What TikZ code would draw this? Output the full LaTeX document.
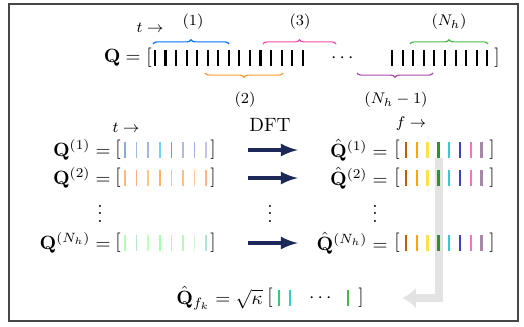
\documentclass[tikz,border=0pt]{standalone}
\usepackage{amsmath}
\usetikzlibrary{arrows.meta,decorations.pathreplacing}
\definecolor{dftblue}{RGB}{28,40,88}
\begin{document}
\begin{tikzpicture}[x=0.52pt, y=-0.52pt, >=latex,
    lbl/.style={font=\footnotesize, inner sep=1pt},
    eq/.style={anchor=east, inner sep=1pt},
    brk/.style={inner sep=0pt},
    bar/.style={line width=1.1pt},
    wbar/.style={line width=0.9pt},
    fbar/.style={line width=1.2pt},
    brc/.style={decorate, decoration={brace, amplitude=2.2pt}, line width=0.6pt},
    dftarr/.style={->, line width=2pt, draw=dftblue, shorten <=16.8pt, shorten >=50pt},
    pick/.style={-{Latex[length=7pt,width=11pt]}, line width=4.5pt, draw=gray!22, shorten >=20pt}]
  \useasboundingbox (0,0) rectangle (524,326);
  \draw[line width=1.2pt, gray!55!black] (9,4) rectangle (518,321);
  \coordinate (pk) at (439,158);
  \node[eq] (qt) at (143,58) {$\mathbf{Q} =$};
  \node[brk] (lbt) at (149,58) {$[$};
  \foreach \i in {0,...,14} \draw[bar] (155+10.55*\i,50) -- ++(0,16);
  \node[brk] (dt) at (344,58) {$\cdots$};
  \foreach \i in {0,...,9} \draw[bar] (392+10.6*\i,50) -- ++(0,16);
  \node[brk] (rbt) at (497,58) {$]$};
  \node[lbl] (tt) at (150,28) {$t\rightarrow$};
  \draw[brc, blue!55!cyan] (153,44) -- (229,44);
  \draw[brc, magenta!70] (263,44) -- (336,44);
  \draw[brc, green!60!black!70] (410,44) -- (488,44);
  \draw[brc, orange!80] (283,73) -- (205,73);
  \draw[brc, violet!70] (433,73) -- (357,73);
  \node[lbl] (w1) at (193,22) {$(1)$};
  \node[lbl] (w3) at (300,22) {$(3)$};
  \node[lbl] (wn) at (449,22) {$(N_h)$};
  \node[lbl] (w2) at (245,100) {$(2)$};
  \node[lbl] (wn1) at (396,100) {$(N_h-1)$};
  \node (dft) at (270,125) {DFT};
  \node[eq] (qk) at (265,298) {$\hat{\mathbf{Q}}_{f_k} = \sqrt{\kappa}$};
  \node[brk] (lbk) at (270,298) {$[$};
  \draw[fbar, green!50!teal!80] (279,290) -- ++(0,16);
  \draw[fbar, teal!50!cyan!80] (290,290) -- ++(0,16);
  \node[brk] (dk) at (322,298) {$\cdots$};
  \draw[fbar, green!40!gray] (348,290) -- ++(0,16);
  \node[brk] (rbk) at (361,298) {$]$};
  \draw[pick] (pk) |- (rbk);
  \node[eq] (q1) at (113,150) {$\mathbf{Q}^{(1)} =$};
  \node[brk] (lb1) at (118,150) {$[$};
  \foreach \c [count=\i from 0] in {cyan!45!blue!45, cyan!60!blue!40, cyan!35!blue!35, cyan!55, cyan!45!blue!55, cyan!30!blue!30, cyan!50!blue!40, cyan!30!blue!25}
    \draw[wbar, \c] (125+11.6*\i,142) -- ++(0,16);
  \node[brk] (rb1) at (213,150) {$]$};
  \node[lbl] (t1) at (126,128) {$t\rightarrow$};
  \node[eq] (q2) at (113,178) {$\mathbf{Q}^{(2)} =$};
  \node[brk] (lb2) at (118,178) {$[$};
  \foreach \c [count=\i from 0] in {orange!55, red!30!orange!50, orange!45, orange!60, red!25!orange!40, orange!50, orange!40, red!30!orange!45}
    \draw[wbar, \c] (125+11.6*\i,170) -- ++(0,16);
  \node[brk] (rb2) at (213,178) {$]$};
  \node (vl) at (100,208) {$\vdots$};
  \node[eq] (qn) at (113,243) {$\mathbf{Q}^{(N_h)} =$};
  \node[brk] (lbn) at (118,243) {$[$};
  \foreach \c [count=\i from 0] in {green!30, green!40!teal!30, green!25, green!35, teal!25!green!30, green!30, green!20, green!35!teal!30}
    \draw[wbar, \c] (125+11.6*\i,235) -- ++(0,16);
  \node[brk] (rbn) at (213,243) {$]$};
  \node[eq] (hq1) at (390,150) {$\hat{\mathbf{Q}}^{(1)} =$};
  \node[brk] (hl1) at (397,150) {$[$};
  \node[brk] (hr1) at (492,150) {$]$};
  \node[lbl] (f1) at (411,124) {$f\rightarrow$};
  \node[eq] (hq2) at (390,178) {$\hat{\mathbf{Q}}^{(2)} =$};
  \node[brk] (hl2) at (397,178) {$[$};
  \node[brk] (hr2) at (492,178) {$]$};
  \node (vr) at (375,208) {$\vdots$};
  \node[eq] (hqn) at (390,243) {$\hat{\mathbf{Q}}^{(N_h)} =$};
  \node[brk] (hln) at (397,243) {$[$};
  \node[brk] (hrn) at (492,243) {$]$};
  \foreach \y in {142,170,235}
    \foreach \c [count=\i from 0] in {orange!75!black, orange!70!yellow, yellow!75!orange!70, green!45!black!80, teal!50!cyan!80, blue!50!gray, magenta!55, violet!35!gray!70}
      \draw[fbar, \c] (406+10.8*\i,\y) -- ++(0,16);
  \draw[dftarr] (rb1) -- (hl1);
  \draw[dftarr] (rb2) -- (hl2);
  \draw[dftarr] (rbn) -- (hln);
  \node (va) at (270,208) {$\vdots$};
\end{tikzpicture}
\end{document}
